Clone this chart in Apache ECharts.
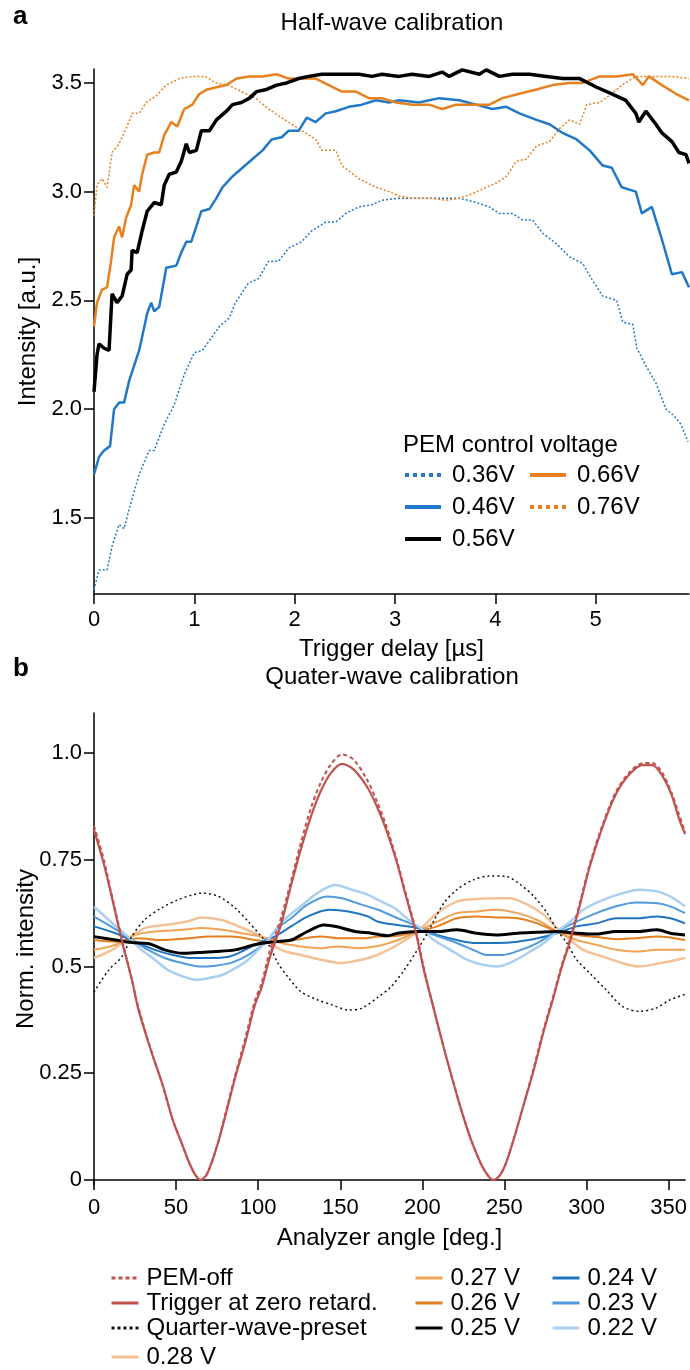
<!DOCTYPE html>
<html><head><meta charset="utf-8">
<script src="https://cdn.jsdelivr.net/npm/echarts@6/dist/echarts.min.js"></script>
<style>html,body{margin:0;padding:0;background:#fff}#c{width:690px;height:1370px}</style>
</head><body><div id="c"></div>
<script>
// ---------- Panel a: Half-wave calibration (x: trigger delay µs, y: intensity a.u.) ----------
const topXTicks = [0, 1, 2, 3, 4, 5];
const topYTicks = [1.5, 2.0, 2.5, 3.0, 3.5];
const v036 = [[0,1.17],[0.05,1.26],[0.13,1.26],[0.18,1.37],[0.25,1.47],[0.3,1.45],[0.35,1.54],[0.45,1.70],[0.55,1.81],[0.6,1.81],[0.7,1.93],[0.8,2.02],[0.9,2.16],[1.0,2.26],[1.08,2.27],[1.25,2.38],[1.35,2.42],[1.41,2.49],[1.54,2.58],[1.64,2.60],[1.74,2.68],[1.84,2.68],[1.94,2.74],[2.07,2.77],[2.17,2.82],[2.31,2.86],[2.41,2.86],[2.51,2.90],[2.64,2.93],[2.77,2.94],[2.87,2.96],[3.04,2.97],[3.27,2.97],[3.47,2.97],[3.64,2.97],[3.81,2.95],[3.94,2.93],[4.04,2.90],[4.17,2.90],[4.27,2.87],[4.37,2.87],[4.47,2.81],[4.61,2.76],[4.74,2.70],[4.87,2.67],[4.97,2.59],[5.07,2.52],[5.21,2.50],[5.27,2.40],[5.37,2.39],[5.41,2.28],[5.5,2.20],[5.6,2.12],[5.7,2.00],[5.78,1.97],[5.85,1.93],[5.92,1.85]];
const v046 = [[0,1.70],[0.05,1.78],[0.1,1.81],[0.16,1.83],[0.2,2.00],[0.25,2.03],[0.3,2.03],[0.35,2.13],[0.4,2.20],[0.45,2.27],[0.53,2.44],[0.57,2.49],[0.6,2.45],[0.65,2.47],[0.72,2.65],[0.82,2.66],[0.87,2.72],[0.92,2.77],[0.97,2.77],[1.07,2.91],[1.15,2.92],[1.22,2.97],[1.28,3.02],[1.38,3.07],[1.48,3.11],[1.58,3.15],[1.68,3.19],[1.77,3.24],[1.87,3.25],[1.94,3.28],[2.04,3.28],[2.12,3.34],[2.21,3.32],[2.31,3.36],[2.41,3.37],[2.54,3.39],[2.67,3.40],[2.81,3.42],[2.94,3.41],[3.04,3.42],[3.24,3.41],[3.44,3.43],[3.64,3.42],[3.81,3.40],[3.97,3.38],[4.11,3.39],[4.24,3.36],[4.41,3.33],[4.54,3.31],[4.67,3.27],[4.81,3.24],[4.94,3.19],[5.07,3.12],[5.16,3.11],[5.26,3.02],[5.40,3.00],[5.46,2.90],[5.56,2.93],[5.66,2.78],[5.76,2.62],[5.86,2.63],[5.93,2.56]];
const v056 = [[0,2.08],[0.03,2.25],[0.05,2.30],[0.1,2.28],[0.15,2.27],[0.18,2.53],[0.23,2.49],[0.28,2.52],[0.33,2.62],[0.37,2.64],[0.38,2.73],[0.43,2.72],[0.48,2.82],[0.53,2.91],[0.6,2.95],[0.67,2.94],[0.7,3.03],[0.75,3.08],[0.82,3.09],[0.87,3.14],[0.92,3.22],[0.95,3.18],[1.02,3.19],[1.07,3.28],[1.15,3.28],[1.22,3.33],[1.32,3.37],[1.38,3.40],[1.47,3.41],[1.55,3.43],[1.62,3.46],[1.72,3.47],[1.82,3.49],[1.92,3.50],[2.04,3.52],[2.14,3.53],[2.27,3.54],[2.41,3.54],[2.51,3.54],[2.64,3.54],[2.77,3.53],[2.87,3.54],[3.04,3.53],[3.17,3.54],[3.34,3.53],[3.47,3.55],[3.54,3.53],[3.67,3.56],[3.84,3.54],[3.91,3.56],[4.04,3.53],[4.17,3.54],[4.34,3.54],[4.51,3.53],[4.67,3.52],[4.84,3.52],[5.01,3.48],[5.16,3.45],[5.30,3.42],[5.40,3.36],[5.43,3.32],[5.50,3.37],[5.60,3.31],[5.66,3.27],[5.76,3.23],[5.83,3.18],[5.90,3.17],[5.93,3.13]];
const v066 = [[0,2.38],[0.03,2.49],[0.08,2.55],[0.13,2.56],[0.17,2.68],[0.2,2.79],[0.25,2.84],[0.28,2.79],[0.32,2.88],[0.37,2.94],[0.4,3.03],[0.45,3.00],[0.48,3.08],[0.53,3.17],[0.6,3.18],[0.65,3.18],[0.7,3.26],[0.77,3.32],[0.83,3.30],[0.9,3.38],[0.98,3.40],[1.05,3.45],[1.13,3.47],[1.22,3.48],[1.32,3.49],[1.42,3.52],[1.55,3.53],[1.68,3.53],[1.82,3.54],[1.94,3.52],[2.07,3.52],[2.21,3.52],[2.34,3.49],[2.47,3.46],[2.61,3.46],[2.74,3.43],[2.87,3.43],[3.01,3.41],[3.17,3.40],[3.34,3.40],[3.47,3.38],[3.61,3.40],[3.77,3.40],[3.94,3.40],[4.07,3.43],[4.24,3.45],[4.41,3.47],[4.57,3.49],[4.74,3.50],[4.87,3.50],[5.04,3.53],[5.21,3.53],[5.37,3.54],[5.47,3.49],[5.53,3.53],[5.66,3.49],[5.80,3.45],[5.93,3.42]];
const v076 = [[0,2.89],[0.03,3.03],[0.08,3.06],[0.13,3.02],[0.18,3.18],[0.25,3.22],[0.32,3.29],[0.38,3.36],[0.45,3.36],[0.52,3.41],[0.62,3.44],[0.72,3.49],[0.85,3.52],[0.98,3.53],[1.11,3.53],[1.21,3.50],[1.34,3.49],[1.47,3.46],[1.61,3.43],[1.74,3.38],[1.87,3.34],[2.04,3.29],[2.21,3.24],[2.27,3.19],[2.41,3.19],[2.47,3.12],[2.64,3.06],[2.81,3.02],[2.94,3.00],[3.04,2.98],[3.17,2.97],[3.34,2.97],[3.51,2.96],[3.64,2.97],[3.77,2.99],[3.91,3.02],[4.01,3.04],[4.11,3.07],[4.21,3.14],[4.31,3.15],[4.41,3.21],[4.54,3.23],[4.64,3.29],[4.74,3.33],[4.84,3.31],[4.91,3.40],[5.04,3.41],[5.16,3.45],[5.26,3.49],[5.40,3.53],[5.56,3.53],[5.76,3.53],[5.93,3.52]];

// ---------- Panel b: Quarter-wave calibration (x: analyzer angle deg, y: normalized intensity) ----------
const botXTicks = [0, 50, 100, 150, 200, 250, 300, 350];
const botYTicks = [0, 0.25, 0.5, 0.75, 1.0];
const botYLabels = ['0', '0.25', '0.5', '0.75', '1.0'];
const pemOff = [[0,0.83],[6,0.75],[11,0.665],[17,0.565],[23,0.47],[27,0.405],[35,0.30],[42,0.22],[48,0.14],[53,0.09],[58,0.04],[62,0.01],[65,0.0],[69,0.015],[75,0.08],[80,0.155],[86,0.245],[92,0.33],[98,0.42],[102,0.46],[107,0.535],[114,0.615],[120,0.70],[126,0.79],[132,0.87],[138,0.93],[144,0.972],[151,0.997],[158,0.985],[166,0.94],[172,0.89],[178,0.83],[184,0.755],[190,0.67],[196,0.585],[201,0.495],[207,0.40],[213,0.31],[218,0.24],[224,0.16],[230,0.09],[236,0.035],[240,0.01],[243,0.0],[247,0.01],[251,0.04],[256,0.10],[262,0.18],[268,0.265],[274,0.355],[280,0.435],[285,0.505],[290,0.565],[296,0.65],[302,0.74],[310,0.835],[318,0.91],[326,0.955],[334,0.976],[340,0.977],[346,0.955],[352,0.905],[356,0.86],[360,0.815]];
const trigZero = [[0,0.82],[6,0.74],[11,0.66],[17,0.56],[23,0.47],[27,0.40],[35,0.30],[42,0.22],[48,0.14],[53,0.09],[58,0.04],[62,0.01],[65,0.0],[69,0.015],[75,0.08],[80,0.15],[86,0.24],[92,0.32],[98,0.41],[102,0.45],[107,0.52],[114,0.60],[120,0.69],[126,0.775],[132,0.85],[138,0.91],[144,0.952],[151,0.975],[158,0.962],[166,0.923],[172,0.878],[178,0.82],[184,0.75],[190,0.665],[196,0.58],[201,0.49],[207,0.40],[213,0.31],[218,0.24],[224,0.16],[230,0.09],[236,0.035],[240,0.01],[243,0.0],[247,0.01],[251,0.04],[256,0.10],[262,0.18],[268,0.26],[274,0.35],[280,0.43],[285,0.50],[290,0.56],[296,0.645],[302,0.735],[310,0.83],[318,0.905],[326,0.95],[334,0.972],[340,0.972],[346,0.948],[352,0.90],[356,0.85],[360,0.81]];
const qwPreset = [[0,0.44],[9,0.492],[17,0.523],[23,0.57],[31,0.61],[41,0.637],[51,0.656],[60,0.668],[66,0.672],[76,0.664],[86,0.637],[94,0.605],[102,0.57],[107,0.547],[112,0.508],[118,0.476],[126,0.441],[136,0.422],[145,0.41],[155,0.398],[163,0.402],[173,0.428],[181,0.453],[189,0.492],[197,0.539],[203,0.578],[213,0.648],[221,0.68],[231,0.703],[241,0.712],[251,0.711],[260,0.691],[268,0.664],[276,0.625],[282,0.586],[288,0.555],[294,0.516],[302,0.484],[312,0.445],[322,0.406],[332,0.395],[342,0.402],[351,0.422],[360,0.435]];
const v028 = [[0,0.52],[11,0.539],[21,0.566],[31,0.59],[43,0.597],[56,0.605],[66,0.615],[78,0.609],[88,0.594],[102,0.57],[114,0.539],[126,0.527],[138,0.516],[151,0.508],[163,0.516],[173,0.528],[185,0.551],[197,0.582],[209,0.625],[221,0.652],[233,0.658],[245,0.66],[253,0.66],[264,0.645],[274,0.621],[282,0.59],[290,0.562],[298,0.539],[310,0.523],[322,0.508],[332,0.50],[345,0.508],[360,0.52]];
const v027 = [[0,0.539],[13,0.551],[25,0.574],[37,0.582],[54,0.586],[66,0.59],[78,0.586],[90,0.578],[102,0.57],[114,0.555],[126,0.547],[138,0.543],[149,0.547],[161,0.543],[173,0.548],[185,0.562],[197,0.582],[209,0.605],[221,0.625],[233,0.629],[245,0.633],[258,0.625],[270,0.609],[282,0.582],[294,0.562],[306,0.551],[318,0.539],[330,0.535],[343,0.539],[360,0.539]];
const v026 = [[0,0.562],[13,0.558],[27,0.566],[41,0.562],[58,0.566],[70,0.57],[84,0.57],[98,0.562],[110,0.558],[122,0.562],[138,0.57],[151,0.566],[163,0.566],[173,0.57],[185,0.572],[197,0.582],[209,0.594],[221,0.613],[233,0.617],[245,0.615],[258,0.613],[270,0.601],[282,0.582],[294,0.574],[306,0.569],[318,0.564],[330,0.566],[343,0.57],[360,0.562]];
const v025 = [[0,0.57],[13,0.562],[23,0.556],[33,0.554],[43,0.539],[54,0.531],[64,0.533],[74,0.535],[86,0.539],[98,0.551],[110,0.558],[120,0.562],[130,0.582],[140,0.597],[148,0.593],[159,0.582],[169,0.578],[179,0.572],[185,0.578],[197,0.582],[209,0.582],[221,0.586],[233,0.578],[245,0.574],[258,0.578],[270,0.58],[282,0.582],[294,0.578],[306,0.576],[318,0.582],[330,0.582],[343,0.586],[351,0.578],[360,0.574]];
const v024 = [[0,0.594],[13,0.578],[25,0.558],[37,0.539],[48,0.527],[58,0.52],[70,0.52],[82,0.523],[92,0.539],[102,0.558],[110,0.57],[120,0.594],[130,0.617],[143,0.633],[155,0.629],[167,0.617],[173,0.605],[185,0.597],[197,0.59],[209,0.574],[221,0.562],[233,0.555],[245,0.555],[258,0.558],[270,0.566],[282,0.578],[294,0.594],[306,0.601],[318,0.613],[330,0.613],[343,0.617],[351,0.613],[360,0.601]];
const v023 = [[0,0.617],[9,0.597],[17,0.578],[25,0.558],[33,0.539],[43,0.52],[54,0.508],[64,0.50],[74,0.502],[84,0.509],[94,0.527],[104,0.555],[112,0.59],[120,0.613],[130,0.645],[142,0.664],[151,0.66],[163,0.645],[173,0.633],[185,0.613],[197,0.594],[207,0.574],[219,0.558],[231,0.539],[239,0.527],[249,0.527],[260,0.539],[270,0.555],[282,0.582],[294,0.605],[306,0.625],[318,0.641],[330,0.65],[343,0.648],[351,0.641],[360,0.625]];
const v022 = [[0,0.64],[9,0.609],[17,0.582],[23,0.562],[29,0.539],[37,0.516],[45,0.492],[54,0.477],[62,0.469],[70,0.473],[78,0.48],[86,0.496],[94,0.516],[100,0.539],[106,0.562],[112,0.594],[118,0.617],[126,0.641],[136,0.672],[147,0.691],[157,0.68],[167,0.668],[173,0.656],[183,0.637],[193,0.605],[199,0.59],[207,0.562],[217,0.539],[227,0.516],[237,0.504],[245,0.50],[253,0.508],[264,0.531],[274,0.555],[282,0.582],[290,0.605],[298,0.633],[310,0.656],[322,0.672],[332,0.68],[343,0.676],[351,0.664],[360,0.641]];

const FONT = "'Liberation Sans', Arial, sans-serif";
const BLUE = '#2178C9', ORANGE = '#E8801E', RED = '#C1514E';

const chart = echarts.init(document.getElementById('c'), null, {renderer: 'canvas'});

function axisCommon(ticks, fmt) {
  return {
    axisLine: {show: true, lineStyle: {color: '#000', width: 1.5}},
    axisTick: {show: true, length: 10, inside: false, customValues: ticks, lineStyle: {color: '#000', width: 1.5}},
    axisLabel: {show: true, customValues: ticks, formatter: fmt, color: '#000', fontSize: 22, fontFamily: FONT},
    splitLine: {show: false}
  };
}

function ln(name, data, color, width, type, xi, extra) {
  return Object.assign({
    name: name, type: 'line', data: data, xAxisIndex: xi, yAxisIndex: xi,
    symbol: 'none', showSymbol: false, animation: false,
    lineStyle: {color: color, width: width, type: type || 'solid'},
    itemStyle: {color: color}
  }, extra || {});
}

const topFmt = v => v.toFixed(1);
const botFmt = v => { const i = botYTicks.findIndex(t => Math.abs(t - v) < 1e-9); return i >= 0 ? botYLabels[i] : ''; };
const nameStyle = {fontSize: 24, fontFamily: FONT, color: '#000'};

const xa0 = Object.assign(axisCommon(topXTicks, v => String(v)), {
  type: 'value', gridIndex: 0, min: 0, max: 5.93,
  name: 'Trigger delay [µs]', nameLocation: 'middle', nameGap: 43, nameTextStyle: nameStyle, nameMoveOverlap: false
});
xa0.axisLabel.margin = 15;
const ya0 = Object.assign(axisCommon(topYTicks, topFmt), {
  type: 'value', gridIndex: 0, min: 1.15, max: 3.564,
  name: 'Intensity [a.u.]', nameLocation: 'middle', nameGap: 54, nameRotate: 90, nameTextStyle: nameStyle, nameMoveOverlap: false
});
ya0.axisLabel.margin = 12;
const xa1 = Object.assign(axisCommon(botXTicks, v => String(v)), {
  type: 'value', gridIndex: 1, min: 0, max: 360,
  name: 'Analyzer angle [deg.]', nameLocation: 'middle', nameGap: 41, nameTextStyle: nameStyle, nameMoveOverlap: false
});
xa1.axisLabel.margin = 12;
const ya1 = Object.assign(axisCommon(botYTicks, botFmt), {
  type: 'value', gridIndex: 1, min: -0.012, max: 1.094,
  name: 'Norm. intensity', nameLocation: 'middle', nameGap: 56, nameRotate: 90, nameTextStyle: nameStyle, nameMoveOverlap: false
});
ya1.axisLabel.margin = 12;

const legText = {fontSize: 24, fontFamily: FONT, color: '#000', lineHeight: 24, padding: [0, 0, 0, 6]};
const legText2 = {fontSize: 24, fontFamily: FONT, color: '#000', lineHeight: 24, padding: [0, 0, 0, 3]};
const hiddenSym = {color: 'transparent', borderColor: 'transparent', borderWidth: 0, opacity: 0};
const dotted = [4, 4];
function leg(left, top, data, w, lw, gap, txt) {
  return {orient: 'vertical', left: left, top: top, padding: 0, itemWidth: w, itemHeight: 12, itemGap: gap,
    textStyle: txt, lineStyle: {width: lw}, itemStyle: hiddenSym, selectedMode: false, data: data};
}

const option = {
  backgroundColor: '#fff',
  animation: false,
  textStyle: {fontFamily: FONT},
  grid: [
    {left: 94, top: 69, width: 595, height: 525, containLabel: false},
    {left: 94, top: 713, width: 595, height: 472, containLabel: false}
  ],
  xAxis: [xa0, xa1],
  yAxis: [ya0, ya1],
  legend: [
    leg(403, 463, [{name: '0.36V', lineStyle: {type: dotted}}, '0.46V', '0.56V'], 36, 4, 8, legText),
    leg(528, 463, ['0.66V', {name: '0.76V', lineStyle: {type: dotted}}], 36, 4, 8, legText),
    leg(110, 1266, [{name: 'PEM-off', lineStyle: {type: [4, 3]}}, 'Trigger at zero retard.', {name: 'Quarter-wave-preset', lineStyle: {type: [3, 3]}}], 27, 3, 1, legText2),
    leg(110, 1345, ['0.28 V'], 27, 3, 1, legText2),
    leg(414, 1266, ['0.27 V', '0.26 V', '0.25 V'], 27, 3, 1, legText2),
    leg(551, 1266, ['0.24 V', '0.23 V', '0.22 V'], 27, 3, 1, legText2)
  ],
  graphic: [
    {type: 'text', left: 13, top: 4, style: {text: 'a', font: "bold 26px " + FONT, fill: '#000'}},
    {type: 'text', x: 392, y: 23, style: {text: 'Half-wave calibration', font: "24px " + FONT, fill: '#000', textAlign: 'center', textVerticalAlign: 'middle'}},
    {type: 'text', x: 403, y: 445, style: {text: 'PEM control voltage', font: "24px " + FONT, fill: '#000', textAlign: 'left', textVerticalAlign: 'middle'}},
    {type: 'text', left: 13, top: 656, style: {text: 'b', font: "bold 26px " + FONT, fill: '#000'}},
    {type: 'text', x: 392, y: 677, style: {text: 'Quater-wave calibration', font: "24px " + FONT, fill: '#000', textAlign: 'center', textVerticalAlign: 'middle'}}
  ],
  series: [
    ln('0.36V', v036, BLUE, 1.5, [2, 2], 0),
    ln('0.76V', v076, ORANGE, 1.5, [2, 2], 0),
    ln('0.46V', v046, BLUE, 2.5, 'solid', 0),
    ln('0.66V', v066, ORANGE, 2.5, 'solid', 0),
    ln('0.56V', v056, '#000', 3.5, 'solid', 0),

    ln('0.28 V', v028, '#F4C196', 2.5, 'solid', 1, {smooth: 0.3}),
    ln('0.27 V', v027, '#F1A456', 2, 'solid', 1, {smooth: 0.3}),
    ln('0.26 V', v026, '#E67F1F', 2, 'solid', 1, {smooth: 0.3}),
    ln('0.24 V', v024, '#1F74C2', 2, 'solid', 1, {smooth: 0.3}),
    ln('0.23 V', v023, '#4E9BE0', 2, 'solid', 1, {smooth: 0.3}),
    ln('0.22 V', v022, '#ABCFF1', 2.5, 'solid', 1, {smooth: 0.3}),
    ln('0.25 V', v025, '#000', 3, 'solid', 1, {smooth: 0.3}),
    ln('Quarter-wave-preset', qwPreset, '#111', 1.5, [2, 3], 1, {smooth: 0.3}),
    ln('PEM-off', pemOff, RED, 2, [4, 3], 1, {smooth: 0.3}),
    ln('Trigger at zero retard.', trigZero, RED, 2.2, 'solid', 1, {smooth: 0.3})
  ]
};
chart.setOption(option);
</script></body></html>
